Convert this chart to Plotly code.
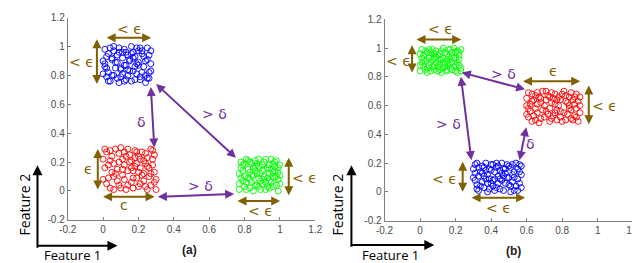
import plotly.graph_objects as go

# ---- data: cluster points (Feature 1, Feature 2) ----
a_blue = [(0.01,0.98),(0.05,0.91),(0.12,0.87),(0.19,0.99),(0.24,0.80),(0.03,0.76),(0.08,0.94),(0.15,0.83),(0.22,0.97),(0.27,0.88),
(0.02,0.85),(0.10,0.79),(0.17,0.92),(0.21,0.77),(0.06,1.00),(0.13,0.96),(0.26,0.82),(0.00,0.90),(0.09,0.75),(0.18,0.86),
(0.23,0.93),(0.04,0.99),(0.11,0.81),(0.16,0.95),(0.25,0.78),(0.07,0.89),(0.14,0.84),(0.20,0.97),(0.02,0.93),(0.12,0.76),
(0.19,0.88),(0.26,0.94),(0.05,0.80),(0.09,0.99),(0.15,0.91),(0.22,0.82),(0.01,0.86),(0.08,0.78),(0.17,0.96),(0.24,0.90),
(0.03,0.95),(0.13,0.87),(0.21,0.79),(0.27,0.83),(0.06,0.97),(0.10,0.84),(0.18,0.77),(0.25,0.99),(0.00,0.81),(0.11,0.92),
(0.16,1.00),(0.23,0.86),(0.04,0.76),(0.14,0.94),(0.20,0.89),(0.26,0.78),(0.07,0.85),(0.12,0.98),(0.19,0.81),(0.02,0.79),
(0.09,0.96),(0.15,0.90),(0.24,0.75),(0.05,0.92),(0.17,0.83),(0.22,0.95),(0.01,0.88),(0.10,0.85),(0.13,0.77),(0.27,0.97),
(0.06,0.80),(0.18,0.93),(0.21,0.99),(0.03,0.82),(0.08,0.89),(0.16,0.76),(0.25,0.91),(0.11,0.96),(0.14,0.80),(0.20,0.87)]

a_red = [(0.02,0.27),(0.07,0.12),(0.14,0.29),(0.21,0.05),(0.28,0.18),(0.04,0.02),(0.11,0.22),(0.17,0.14),(0.24,0.26),(0.30,0.08),
(0.01,0.16),(0.09,0.04),(0.15,0.20),(0.22,0.11),(0.27,0.29),(0.05,0.24),(0.12,0.08),(0.19,0.27),(0.25,0.01),(0.03,0.09),
(0.10,0.30),(0.18,0.17),(0.23,0.21),(0.29,0.13),(0.06,0.19),(0.13,0.01),(0.20,0.24),(0.26,0.10),(0.00,0.22),(0.08,0.15),
(0.16,0.06),(0.24,0.19),(0.29,0.25),(0.04,0.28),(0.11,0.11),(0.17,0.02),(0.21,0.16),(0.27,0.04),(0.02,0.05),(0.09,0.26),
(0.14,0.14),(0.19,0.09),(0.25,0.23),(0.30,0.01),(0.06,0.10),(0.12,0.18),(0.18,0.28),(0.23,0.07),(0.28,0.22),(0.01,0.29),
(0.08,0.07),(0.15,0.25),(0.20,0.13),(0.26,0.16),(0.03,0.18),(0.10,0.02),(0.16,0.21),(0.22,0.27),(0.29,0.06),(0.05,0.13),
(0.13,0.24),(0.19,0.19),(0.24,0.03),(0.07,0.29),(0.11,0.15),(0.17,0.09),(0.27,0.12),(0.00,0.08),(0.14,0.04),(0.21,0.22),
(0.06,0.01),(0.09,0.20),(0.16,0.16),(0.23,0.12),(0.28,0.28),(0.04,0.21),(0.12,0.27),(0.20,0.03),(0.25,0.17),(0.18,0.23)]

a_green = [(0.78,0.20),(0.83,0.08),(0.88,0.17),(0.94,0.02),(0.99,0.13),(0.80,0.03),(0.86,0.21),(0.91,0.10),(0.96,0.19),(1.00,0.05),
(0.77,0.12),(0.82,0.15),(0.87,0.04),(0.92,0.22),(0.97,0.09),(0.79,0.07),(0.84,0.19),(0.90,0.14),(0.95,0.06),(0.98,0.21),
(0.81,0.22),(0.85,0.11),(0.89,0.01),(0.93,0.16),(0.99,0.00),(0.78,0.16),(0.83,0.02),(0.88,0.09),(0.94,0.12),(0.97,0.17),
(0.80,0.10),(0.86,0.14),(0.91,0.20),(0.96,0.03),(1.00,0.18),(0.77,0.05),(0.82,0.21),(0.87,0.12),(0.92,0.06),(0.98,0.10),
(0.79,0.18),(0.84,0.06),(0.90,0.18),(0.95,0.22),(0.99,0.08),(0.81,0.01),(0.85,0.16),(0.89,0.07),(0.93,0.03),(0.97,0.14),
(0.78,0.09),(0.83,0.13),(0.88,0.22),(0.94,0.18),(1.00,0.11),(0.80,0.19),(0.86,0.04),(0.91,0.15),(0.96,0.10),(0.82,0.09),
(0.87,0.19),(0.92,0.01),(0.98,0.04),(0.79,0.14),(0.84,0.11),(0.90,0.05),(0.95,0.15),(0.81,0.06),(0.89,0.12),(0.93,0.09),
(0.85,0.00),(0.97,0.20),(0.77,0.01),(0.86,0.17),(0.91,0.08),(0.99,0.16),(0.83,0.20),(0.94,0.07),(0.88,0.03),(0.96,0.13)]

b_green = [(0.01,0.99),(0.05,0.88),(0.10,0.95),(0.15,0.84),(0.20,0.97),(0.03,0.91),(0.08,0.85),(0.13,1.00),(0.18,0.90),(0.23,0.86),
(0.00,0.84),(0.06,0.97),(0.11,0.89),(0.16,0.94),(0.21,0.83),(0.02,0.95),(0.07,0.92),(0.12,0.83),(0.17,0.99),(0.22,0.92),
(0.04,0.86),(0.09,0.98),(0.14,0.87),(0.19,0.93),(0.23,0.99),(0.01,0.90),(0.06,0.84),(0.11,0.96),(0.15,0.91),(0.20,0.88),
(0.03,0.98),(0.08,0.93),(0.13,0.86),(0.18,0.85),(0.22,0.95),(0.00,0.96),(0.05,0.93),(0.10,0.87),(0.16,0.99),(0.21,0.90),
(0.02,0.87),(0.07,0.99),(0.12,0.92),(0.17,0.86),(0.23,0.84),(0.04,0.83),(0.09,0.90),(0.14,0.97),(0.19,1.00),(0.01,0.93),
(0.06,0.90),(0.11,0.85),(0.15,0.96),(0.20,0.84),(0.03,0.85),(0.08,0.96),(0.13,0.93),(0.18,0.97),(0.22,0.88),(0.05,0.99),
(0.10,0.84),(0.16,0.89),(0.21,0.98),(0.02,0.92),(0.07,0.87),(0.12,0.98),(0.17,0.92),(0.09,0.94),(0.14,0.89),(0.19,0.87),
(0.04,0.97),(0.11,0.92),(0.15,0.85),(0.20,0.93),(0.00,0.88),(0.06,0.94),(0.13,0.90),(0.18,0.94),(0.08,0.88),(0.22,0.97)]

b_red = [(0.61,0.69),(0.66,0.55),(0.71,0.64),(0.77,0.50),(0.82,0.67),(0.88,0.58),(0.63,0.49),(0.68,0.62),(0.74,0.69),(0.79,0.56),
(0.85,0.51),(0.90,0.66),(0.60,0.60),(0.65,0.67),(0.70,0.52),(0.76,0.61),(0.81,0.70),(0.87,0.53),(0.62,0.56),(0.67,0.48),
(0.73,0.58),(0.78,0.66),(0.84,0.60),(0.89,0.49),(0.64,0.64),(0.69,0.70),(0.75,0.53),(0.80,0.49),(0.86,0.64),(0.61,0.52),
(0.66,0.61),(0.72,0.67),(0.77,0.57),(0.83,0.54),(0.88,0.68),(0.63,0.68),(0.68,0.51),(0.74,0.62),(0.79,0.64),(0.85,0.57),
(0.90,0.55),(0.60,0.65),(0.65,0.50),(0.71,0.56),(0.76,0.68),(0.82,0.50),(0.87,0.61),(0.62,0.61),(0.67,0.66),(0.73,0.49),
(0.78,0.60),(0.84,0.66),(0.89,0.63),(0.64,0.53),(0.70,0.60),(0.75,0.65),(0.81,0.55),(0.86,0.50),(0.61,0.58),(0.66,0.69),
(0.72,0.54),(0.77,0.64),(0.83,0.62),(0.88,0.52),(0.63,0.63),(0.69,0.57),(0.74,0.51),(0.80,0.68),(0.85,0.69),(0.68,0.65),
(0.71,0.70),(0.79,0.52),(0.84,0.58),(0.60,0.54),(0.65,0.58),(0.76,0.55),(0.82,0.63),(0.87,0.66),(0.73,0.66),(0.90,0.60)]

b_blue = [(0.31,0.19),(0.35,0.07),(0.40,0.15),(0.45,0.02),(0.50,0.18),(0.55,0.09),(0.33,0.01),(0.38,0.12),(0.43,0.20),(0.48,0.06),
(0.53,0.14),(0.57,0.03),(0.30,0.10),(0.36,0.17),(0.41,0.04),(0.46,0.13),(0.51,0.00),(0.56,0.19),(0.32,0.05),(0.37,0.20),
(0.42,0.09),(0.47,0.16),(0.52,0.07),(0.57,0.12),(0.34,0.14),(0.39,0.02),(0.44,0.11),(0.49,0.19),(0.54,0.04),(0.31,0.08),
(0.35,0.18),(0.40,0.06),(0.45,0.15),(0.50,0.10),(0.55,0.16),(0.33,0.11),(0.38,0.00),(0.43,0.17),(0.48,0.13),(0.53,0.01),
(0.30,0.16),(0.36,0.03),(0.41,0.19),(0.46,0.08),(0.51,0.17),(0.56,0.06),(0.32,0.20),(0.37,0.09),(0.42,0.14),(0.47,0.01),
(0.52,0.12),(0.57,0.18),(0.34,0.04),(0.39,0.16),(0.44,0.06),(0.49,0.10),(0.54,0.20),(0.31,0.13),(0.36,0.11),(0.41,0.08),
(0.46,0.20),(0.51,0.04),(0.56,0.14),(0.33,0.17),(0.38,0.06),(0.43,0.03),(0.48,0.16),(0.53,0.10),(0.35,0.13),(0.40,0.19),
(0.45,0.09),(0.50,0.05),(0.55,0.01),(0.32,0.02),(0.37,0.15),(0.42,0.01),(0.47,0.11),(0.52,0.19),(0.44,0.18),(0.39,0.09)]

tick_vals = [-0.2, 0, 0.2, 0.4, 0.6, 0.8, 1, 1.2]
tick_text = ["-0.2", "0", "0.2", "0.4", "0.6", "0.8", "1", "1.2"]

# double arrows: (x_head, y_head, x_tail, y_tail, kind)
arrows_a = [
    (0.02, 1.06, 0.28, 1.06, "eps"),
    (-0.035, 1.05, -0.035, 0.73, "eps"),
    (0.27, 0.72, 0.29, 0.29, "delta"),
    (0.30, 0.74, 0.76, 0.22, "delta"),
    (-0.03, 0.29, -0.03, 0.0, "eps"),
    (0.0, -0.04, 0.30, -0.04, "eps"),
    (0.31, -0.04, 0.75, -0.02, "delta"),
    (1.05, 0.23, 1.05, -0.04, "eps"),
    (0.76, -0.07, 1.01, -0.07, "eps"),
]
labels_a = [
    (0.15, 1.12, "< ϵ", "eps"), (-0.12, 0.89, "< ϵ", "eps"),
    (0.22, 0.48, "δ", "delta"), (0.63, 0.53, "> δ", "delta"),
    (-0.08, 0.15, "ϵ", "eps"), (0.12, -0.10, "c", "eps"),
    (0.55, 0.035, "> δ", "delta"), (1.14, 0.09, "< ϵ", "eps"),
    (0.89, -0.14, "< ϵ", "eps"),
]
arrows_b = [
    (-0.02, 1.06, 0.24, 1.06, "eps"),
    (-0.045, 1.02, -0.045, 0.82, "eps"),
    (0.235, 0.83, 0.60, 0.71, "delta"),
    (0.23, 0.80, 0.29, 0.21, "delta"),
    (0.56, 0.22, 0.60, 0.46, "delta"),
    (0.58, 0.77, 0.91, 0.77, "eps"),
    (0.95, 0.74, 0.95, 0.46, "eps"),
    (0.24, 0.21, 0.24, -0.01, "eps"),
    (0.29, -0.04, 0.60, -0.04, "eps"),
]
labels_b = [
    (0.115, 1.13, "< ϵ", "eps"), (-0.12, 0.91, "< ϵ", "eps"),
    (0.47, 0.82, "> δ", "delta"), (0.16, 0.47, "> δ", "delta"),
    (0.62, 0.33, "δ", "delta"), (0.75, 0.84, "ϵ", "eps"),
    (1.04, 0.60, "< ϵ", "eps"), (0.14, 0.09, "< ϵ", "eps"),
    (0.44, -0.11, "< ϵ", "eps"),
]

BROWN = "#806000"
PURPLE = "#7030A0"
COLORS = {"eps": BROWN, "delta": PURPLE}

fig = go.Figure()

def add_cluster(pts, color, xa, ya):
    fig.add_trace(go.Scatter(
        x=[p[0] for p in pts], y=[p[1] for p in pts], mode="markers",
        marker=dict(symbol="circle-open", size=6, color=color, line=dict(width=0.9, color=color)),
        xaxis=xa, yaxis=ya, showlegend=False, hoverinfo="skip"))

add_cluster(a_blue, "#0000FF", "x", "y")
add_cluster(a_red, "#FF0000", "x", "y")
add_cluster(a_green, "#00FF00", "x", "y")
add_cluster(b_green, "#00FF00", "x2", "y2")
add_cluster(b_red, "#FF0000", "x2", "y2")
add_cluster(b_blue, "#0000FF", "x2", "y2")

axis_common = dict(range=[-0.2, 1.2], tickvals=tick_vals, ticktext=tick_text,
                   showgrid=False, zeroline=False, showline=True, linecolor="#808080",
                   linewidth=1, ticks="inside", ticklen=3, tickcolor="#808080",
                   tickfont=dict(family="Liberation Sans, Arial", size=10, color="#4d4d4d"))

fig.update_layout(
    width=640, height=263, margin=dict(l=0, r=0, t=0, b=0),
    plot_bgcolor="white", paper_bgcolor="white", showlegend=False,
    xaxis=dict(domain=[0.0813, 0.478], anchor="y", **axis_common),
    yaxis=dict(domain=[0.179, 0.982], anchor="x", **axis_common),
    xaxis2=dict(domain=[0.589, 0.9875], anchor="y2", **axis_common),
    yaxis2=dict(domain=[0.176, 0.975], anchor="x2", **axis_common),
)

anns = []
for xr, yr, arrs, labs in (("x", "y", arrows_a, labels_a), ("x2", "y2", arrows_b, labels_b)):
    for (xh, yh, xt, yt, kind) in arrs:
        anns.append(dict(x=xh, y=yh, ax=xt, ay=yt, xref=xr, yref=yr, axref=xr, ayref=yr,
                         text="", showarrow=True, arrowhead=2, startarrowhead=2,
                         arrowside="end+start", arrowsize=0.9, startarrowsize=0.9,
                         arrowwidth=2, arrowcolor=COLORS[kind], standoff=0, startstandoff=0))
    for (x, y, t, kind) in labs:
        anns.append(dict(x=x, y=y, xref=xr, yref=yr, text=t, showarrow=False,
                         xanchor="center", yanchor="middle",
                         font=dict(family="DejaVu Sans", size=14, color=COLORS[kind])))

# panel labels
anns.append(dict(x=177/640, y=1-247/263, xref="paper", yref="paper", text="<b>(a)</b>", showarrow=False,
                 xanchor="center", yanchor="middle",
                 font=dict(family="Liberation Sans, Arial", size=12, color="#222")))
anns.append(dict(x=509/640, y=1-248/263, xref="paper", yref="paper", text="<b>(b)</b>", showarrow=False,
                 xanchor="center", yanchor="middle",
                 font=dict(family="Liberation Sans, Arial", size=12, color="#222")))

# Feature axes indicators
for (ox, oy, vx_top, hx_end, f2x, f1x) in ((21, 243, 159, 103, 8, 57), (343, 242, 159, 428, 329, 383)):
    anns.append(dict(x=ox/640, y=1-vx_top/263, xref="paper", yref="paper", ax=0, ay=oy-vx_top,
                     text="", showarrow=True, arrowhead=2, arrowsize=1, arrowwidth=2, arrowcolor="black", standoff=0))
    anns.append(dict(x=hx_end/640, y=1-oy/263, xref="paper", yref="paper", ax=-(hx_end-ox), ay=0,
                     text="", showarrow=True, arrowhead=2, arrowsize=1, arrowwidth=2, arrowcolor="black", standoff=0))
    anns.append(dict(x=f2x/640, y=1-200/263, xref="paper", yref="paper", text="Feature 2", textangle=-90,
                     xanchor="center", yanchor="middle",
                     showarrow=False, font=dict(family="Open Sans", size=14, color="black")))
    anns.append(dict(x=f1x/640, y=1-253/263, xref="paper", yref="paper", text="Feature 1",
                     xanchor="center", yanchor="middle",
                     showarrow=False, font=dict(family="Open Sans", size=13, color="black")))

fig.update_layout(annotations=anns)
fig.write_html("out.html")
